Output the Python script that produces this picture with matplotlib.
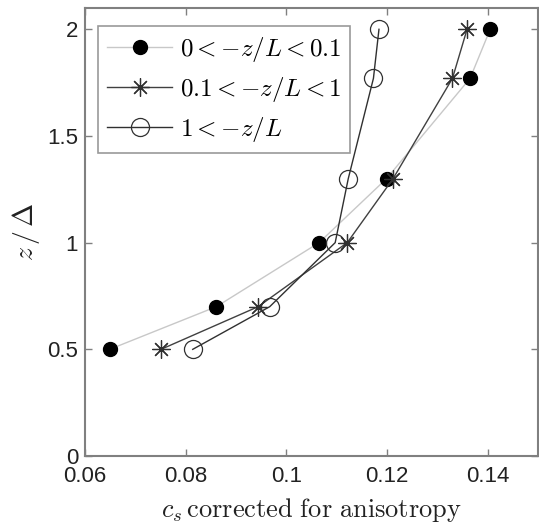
import matplotlib
matplotlib.use("Agg")
import matplotlib.pyplot as plt

plt.rcParams['mathtext.fontset'] = 'cm'
plt.rcParams['font.family'] = ['Liberation Sans', 'DejaVu Sans']

z_levels = [0.5, 0.7, 1.0, 1.3, 1.77, 2.0]
cs_weak = [0.0649, 0.0861, 0.1065, 0.1199, 0.1365, 0.1405]
cs_mid = [0.0751, 0.0944, 0.1121, 0.1212, 0.1330, 0.1359]
cs_strong = [0.0814, 0.0967, 0.1097, 0.1123, 0.1173, 0.1184]

labels = [r'$0<-z/L<0.1$', r'$0.1<-z/L<1$', r'$1<-z/L$']
xticks = [0.06, 0.08, 0.1, 0.12, 0.14]
xticklabels = ['0.06', '0.08', '0.1', '0.12', '0.14']
yticks = [0, 0.5, 1, 1.5, 2]
yticklabels = ['0', '0.5', '1', '1.5', '2']

fig = plt.figure(figsize=(5.39, 5.31), dpi=100)
ax = fig.add_axes([0.1577, 0.1412, 0.8405, 0.8438])

ax.plot(cs_weak, z_levels, color='#c8c8c8', lw=1.0, marker='o', ms=10,
        mfc='black', mec='black', label=labels[0])
ax.plot(cs_mid, z_levels, color='#404040', lw=1.0, marker=(8, 2, 0), ms=13,
        mec='#303030', mew=0.9, label=labels[1])
ax.plot(cs_strong, z_levels, color='#303030', lw=1.0, marker='o', ms=13,
        mfc='none', mec='#303030', mew=0.9, label=labels[2])

ax.set_xlim(0.06, 0.15)
ax.set_ylim(0, 2.1)
ax.set_xticks(xticks)
ax.set_xticklabels(xticklabels)
ax.set_yticks(yticks)
ax.set_yticklabels(yticklabels)
ax.tick_params(direction='in', top=True, right=True, length=5, width=1,
               color='#808080', labelsize=16, labelcolor='#222222')
ax.tick_params(axis='x', pad=7)
ax.tick_params(axis='y', pad=5)
for s in ax.spines.values():
    s.set_color('#808080')
    s.set_linewidth(1.5)

ax.set_xlabel(r'$c_s\,\mathrm{corrected\ for\ anisotropy}$', fontsize=19, color='#222222', labelpad=7)
ax.set_ylabel(r'$z\,/\,\Delta$', fontsize=20, color='#222222', labelpad=4)

leg = ax.legend(loc='upper left', bbox_to_anchor=(0.002, 0.988), fontsize=18,
                frameon=True, fancybox=False, edgecolor='#808080',
                handlelength=2.6, borderpad=0.35, labelspacing=0.45, handletextpad=0.3)
leg.get_frame().set_linewidth(1.2)

fig.savefig('out.png', dpi=100)
